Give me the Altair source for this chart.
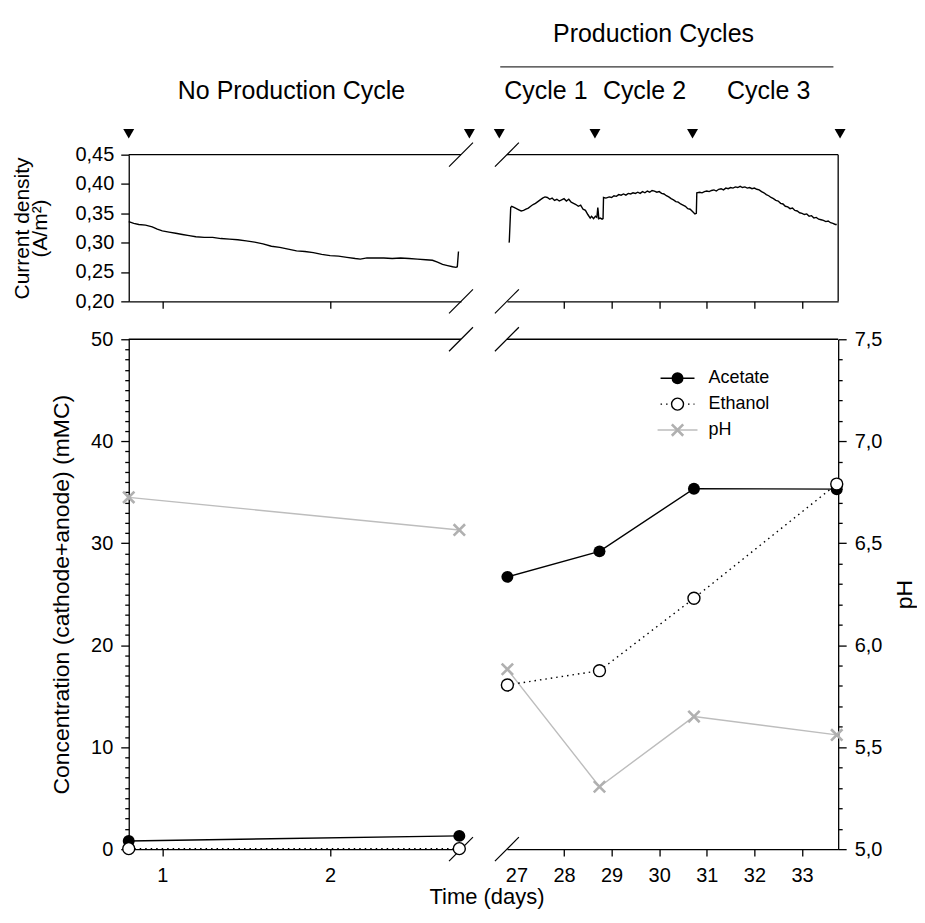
import altair as alt
import pandas as pd

FONT = "Liberation Sans, Arial, Helvetica, sans-serif"
W_L, W_R, H_T, H_B = 333, 332, 147, 511

# ---------------- data ----------------
cd_left_day = [0.80, 0.83, 0.86, 0.90, 0.94, 0.97, 1.00, 1.04, 1.08, 1.12, 1.16, 1.20, 1.25, 1.30,
               1.35, 1.40, 1.45, 1.50, 1.55, 1.60, 1.65, 1.70, 1.75, 1.80, 1.85, 1.90, 1.95, 2.00,
               2.05, 2.10, 2.15, 2.18, 2.22, 2.27, 2.32, 2.37, 2.42, 2.47, 2.52, 2.57, 2.61, 2.64,
               2.67, 2.70, 2.73, 2.75, 2.758, 2.765]
cd_left_val = [0.336, 0.333, 0.331, 0.330, 0.327, 0.323, 0.320, 0.318, 0.316, 0.314, 0.312, 0.310,
               0.309, 0.309, 0.307, 0.306, 0.305, 0.303, 0.301, 0.298, 0.294, 0.292, 0.289, 0.286,
               0.285, 0.283, 0.280, 0.278, 0.277, 0.275, 0.273, 0.272, 0.274, 0.274, 0.274, 0.273,
               0.274, 0.273, 0.272, 0.271, 0.270, 0.267, 0.263, 0.261, 0.259, 0.258, 0.259, 0.285]

cd_right_day = [26.845, 26.85, 26.88, 26.90, 26.95, 27.00, 27.05, 27.10, 27.15, 27.20, 27.25, 27.30,
                27.35, 27.40, 27.45, 27.50, 27.55, 27.60, 27.65, 27.70, 27.75, 27.80, 27.85, 27.90,
                27.95, 28.00, 28.05, 28.10, 28.15, 28.20, 28.25, 28.30, 28.35, 28.40, 28.45, 28.50,
                28.55, 28.58, 28.62, 28.66, 28.69, 28.71, 28.72, 28.73, 28.76, 28.80, 28.82, 28.83,
                28.88, 28.95, 29.00, 29.05, 29.10, 29.15, 29.20, 29.25, 29.30, 29.35, 29.40, 29.45,
                29.50, 29.55, 29.60, 29.65, 29.70, 29.75, 29.80, 29.85, 29.90, 29.95, 30.00, 30.05,
                30.10, 30.15, 30.20, 30.25, 30.30, 30.35, 30.40, 30.45, 30.50, 30.55, 30.60, 30.65,
                30.70, 30.75, 30.78, 30.79, 30.85, 30.90, 30.95, 31.00, 31.05, 31.10, 31.15, 31.20,
                31.25, 31.30, 31.35, 31.40, 31.45, 31.50, 31.55, 31.60, 31.65, 31.70, 31.75, 31.80,
                31.85, 31.90, 31.95, 32.00, 32.05, 32.10, 32.15, 32.20, 32.25, 32.30, 32.35, 32.40,
                32.45, 32.50, 32.55, 32.60, 32.65, 32.70, 32.75, 32.80, 32.85, 32.90, 32.95, 33.00,
                33.05, 33.10, 33.15, 33.20, 33.25, 33.30, 33.35, 33.40, 33.45, 33.50, 33.55, 33.60,
                33.65, 33.70, 33.73]
cd_right_val = [0.300, 0.302, 0.360, 0.362, 0.360, 0.358, 0.356, 0.354, 0.355, 0.357, 0.359, 0.362,
                0.365, 0.367, 0.370, 0.373, 0.376, 0.378, 0.377, 0.374, 0.376, 0.372, 0.374, 0.371,
                0.373, 0.375, 0.371, 0.374, 0.369, 0.367, 0.365, 0.362, 0.364, 0.357, 0.355, 0.348,
                0.342, 0.345, 0.341, 0.345, 0.343, 0.360, 0.352, 0.341, 0.342, 0.340, 0.341, 0.377,
                0.376, 0.378, 0.377, 0.380, 0.379, 0.382, 0.381, 0.383, 0.381, 0.384, 0.383, 0.385,
                0.384, 0.386, 0.384, 0.387, 0.385, 0.388, 0.386, 0.389, 0.388, 0.386, 0.387, 0.384,
                0.383, 0.380, 0.378, 0.375, 0.373, 0.370, 0.369, 0.366, 0.364, 0.362, 0.358, 0.357,
                0.353, 0.349, 0.350, 0.385, 0.386, 0.385, 0.387, 0.388, 0.387, 0.389, 0.390, 0.388,
                0.391, 0.392, 0.390, 0.393, 0.392, 0.394, 0.393, 0.395, 0.394, 0.396, 0.394, 0.395,
                0.393, 0.394, 0.392, 0.393, 0.391, 0.390, 0.387, 0.385, 0.382, 0.380, 0.377, 0.375,
                0.372, 0.371, 0.367, 0.366, 0.362, 0.361, 0.358, 0.359, 0.355, 0.354, 0.351, 0.350,
                0.348, 0.349, 0.345, 0.346, 0.342, 0.343, 0.340, 0.339, 0.338, 0.336, 0.337, 0.334,
                0.333, 0.331, 0.331]

conc_left_day = [0.80, 2.77]
acetate_left = [0.8, 1.3]
ethanol_left = [0.05, 0.05]
ph_left = [6.725, 6.565]

conc_right_day = [26.81, 28.745, 30.73, 33.73]
acetate_right = [26.7, 29.2, 35.35, 35.3]
ethanol_right = [16.1, 17.5, 24.6, 35.8]
ph_right = [5.882, 5.306, 5.65, 5.56]

cycle_marks_left = [0.80, 2.83]
cycle_marks_right = [26.64, 28.65, 30.70, 33.80]

header_left_label = ["No Production Cycle"]
header_left_day = [1.77]
cycle_labels = ["Cycle 1", "Cycle 2", "Cycle 3"]
cycle_label_day = [27.62, 29.69, 32.30]
group_label = ["Production Cycles"]
group_day = [29.88]
group_start = [26.66]
group_end = [33.66]

legend_labels = ["Acetate", "Ethanol", "pH"]

cd_ticks = [0.20, 0.25, 0.30, 0.35, 0.40, 0.45]
conc_ticks = list(range(0, 51))
ph_ticks = [round(5 + 0.1 * i, 1) for i in range(26)]
left_day_ticks = [1, 2]
right_day_ticks = [27, 28, 29, 30, 31, 32, 33]

# ---------------- styling helpers ----------------
GREY_LINE = "#bdbdbd"
GREY_PT = "#b0b0b0"
XPATH = "M-1,-1L1,1M-1,1L1,-1"
LBL = 20

xs_left = alt.Scale(domain=[0.8, 2.78], nice=False, zero=False)
xs_right = alt.Scale(domain=[26.8, 33.76], nice=False, zero=False)
ys_cd = alt.Scale(domain=[0.2, 0.45], nice=False, zero=False)
ys_conc = alt.Scale(domain=[0, 50], nice=False, zero=False)
ys_ph = alt.Scale(domain=[5, 7.5], nice=False, zero=False)

one = pd.DataFrame({"k": [0]})


def hrule(x1, x2, y, color="black", width=1.3):
    return alt.Chart(one).mark_rule(color=color, strokeWidth=width).encode(
        x=alt.value(x1), x2=alt.value(x2), y=alt.value(y))


def vrule(x, y1, y2, color="black", width=1.3):
    return alt.Chart(one).mark_rule(color=color, strokeWidth=width).encode(
        x=alt.value(x), y=alt.value(y1), y2=alt.value(y2))


def slash(cx, cy):
    return alt.Chart(one).mark_rule(color="black", strokeWidth=1.2).encode(
        x=alt.value(cx - 12), x2=alt.value(cx + 12), y=alt.value(cy + 12), y2=alt.value(cy - 12))


def triangles(days, xenc):
    return alt.Chart(pd.DataFrame({"day": days})).mark_point(
        shape="triangle-down", filled=True, color="black", size=120, opacity=1
    ).encode(x=xenc, y=alt.value(-21))


def header_text(days, labels, xenc, ypix):
    return alt.Chart(pd.DataFrame({"day": days, "label": labels})).mark_text(
        fontSize=25, font=FONT, color="black"
    ).encode(x=xenc, y=alt.value(ypix), text="label:N")


# x encodings (same axis object reused in every layer of a panel)
ax_tl = alt.Axis(values=left_day_ticks, labels=False, tickSize=7, title=None)
ax_tr = alt.Axis(values=right_day_ticks[1:], labels=False, tickSize=7, title=None)
ax_bl = alt.Axis(values=left_day_ticks, format="d", tickSize=7, labelPadding=9,
                 labelFlush=False, labelOverlap=False, title=None)
ax_br = alt.Axis(values=right_day_ticks, format="d", tickSize=7, labelPadding=9,
                 tickOpacity={"condition": {"test": "datum.value === 27", "value": 0}, "value": 1},
                 labelFlush=False, labelOverlap=False, title=None)
x_tl = alt.X("day:Q", scale=xs_left, axis=ax_tl, title=None)
x_tr = alt.X("day:Q", scale=xs_right, axis=ax_tr, title=None)
x_bl = alt.X("day:Q", scale=xs_left, axis=ax_bl, title=None)
x_br = alt.X("day:Q", scale=xs_right, axis=ax_br, title=None)

# ---------------- top-left: current density, no production ----------------
df_cdl = pd.DataFrame({"day": cd_left_day, "cd": cd_left_val})
cd_axis = alt.Axis(values=cd_ticks, labelExpr="replace(format(datum.value, '.2f'), '.', ',')",
                   tickSize=8, labelPadding=7, labelOverlap=False, labelFlush=False,
                   title=["Current density", "(A/m²)"], titleFontSize=21, titleLineHeight=19,
                   titlePadding=24)
tl_line = alt.Chart(df_cdl).mark_line(color="black", strokeWidth=1.4).encode(
    x=x_tl, y=alt.Y("cd:Q", scale=ys_cd, axis=cd_axis))
tl = alt.layer(
    hrule(0, W_L, 0), slash(W_L, 0), slash(W_L, H_T),
    triangles(cycle_marks_left, x_tl),
    header_text(header_left_day, header_left_label, x_tl, -64),
    tl_line,
).properties(width=W_L, height=H_T)

# ---------------- top-right: current density, production cycles ----------------
df_cdr = pd.DataFrame({"day": cd_right_day, "cd": cd_right_val})
tr_line = alt.Chart(df_cdr).mark_line(color="black", strokeWidth=1.4).encode(
    x=x_tr, y=alt.Y("cd:Q", scale=ys_cd, axis=None))
df_group = pd.DataFrame({"day": group_start, "end": group_end})
group_line = alt.Chart(df_group).mark_rule(color="#333333", strokeWidth=1.3).encode(
    x=x_tr, x2="end:Q", y=alt.value(-88))
tr = alt.layer(
    hrule(0, W_R, 0), vrule(W_R, 0, H_T), slash(0, 0), slash(0, H_T),
    triangles(cycle_marks_right, x_tr),
    header_text(cycle_label_day, cycle_labels, x_tr, -64),
    header_text(group_day, group_label, x_tr, -121),
    group_line,
    tr_line,
).properties(width=W_R, height=H_T)


# ---------------- concentration panels ----------------
def conc_layers(df, xenc, conc_axis, ph_axis):
    base = alt.Chart(df)
    ph_line = base.mark_line(color=GREY_LINE, strokeWidth=1.4).encode(
        x=xenc, y=alt.Y("ph:Q", scale=ys_ph, axis=ph_axis))
    ph_pts = base.mark_point(shape=XPATH, filled=False, color=GREY_PT, strokeWidth=2.6, size=130,
                             opacity=1).encode(x=xenc, y=alt.Y("ph:Q", scale=ys_ph, axis=None))
    ac_line = base.mark_line(color="black", strokeWidth=1.4).encode(
        x=xenc, y=alt.Y("acetate:Q", scale=ys_conc, axis=conc_axis))
    et_line = base.mark_line(color="black", strokeWidth=1.4, strokeDash=[1.5, 4]).encode(
        x=xenc, y=alt.Y("ethanol:Q", scale=ys_conc, axis=None))
    ac_pts = base.mark_circle(color="black", size=144, opacity=1).encode(
        x=xenc, y=alt.Y("acetate:Q", scale=ys_conc, axis=None))
    et_pts = base.mark_circle(fill="white", stroke="black", strokeWidth=1.4, size=144, opacity=1).encode(
        x=xenc, y=alt.Y("ethanol:Q", scale=ys_conc, axis=None))
    return [ph_line, ph_pts, ac_line, et_line, ac_pts, et_pts]


df_bl = pd.DataFrame({"day": conc_left_day, "acetate": acetate_left, "ethanol": ethanol_left, "ph": ph_left})
df_br = pd.DataFrame({"day": conc_right_day, "acetate": acetate_right, "ethanol": ethanol_right, "ph": ph_right})

major10 = "datum.value % 10 === 0"
conc_axis = alt.Axis(values=conc_ticks,
                     labelExpr=f"{major10} ? format(datum.value, 'd') : ''",
                     tickSize={"condition": {"test": major10, "value": 8}, "value": 4},
                     labelPadding=8, labelOverlap=False, labelFlush=False,
                     title="Concentration (cathode+anode) (mMC)", titleFontSize=23, titlePadding=17)
majorph = "abs(datum.value * 2 - round(datum.value * 2)) < 0.01"
ph_axis = alt.Axis(orient="right", values=ph_ticks,
                   labelExpr=f"{majorph} ? replace(format(datum.value, '.1f'), '.', ',') : ''",
                   tickSize={"condition": {"test": majorph, "value": 8}, "value": 4},
                   labelPadding=8, labelOverlap=False, labelFlush=False,
                   title="pH", titleAngle=270, titleBaseline="top", titleFontSize=23, titlePadding=12)

bl = alt.layer(
    hrule(0, W_L, 0), slash(W_L, 0), slash(W_L, H_B),
    *conc_layers(df_bl, x_bl, conc_axis, None),
).resolve_scale(y="independent").properties(width=W_L, height=H_B)


def legend_entry(ypix, label, kind):
    parts = []
    if kind == "acetate":
        parts.append(hrule(154, 188, ypix, width=1.4))
        parts.append(alt.Chart(one).mark_circle(color="black", size=144, opacity=1).encode(
            x=alt.value(171), y=alt.value(ypix)))
    elif kind == "ethanol":
        parts.append(alt.Chart(one).mark_rule(color="black", strokeWidth=1.4, strokeDash=[1.5, 4]).encode(
            x=alt.value(154), x2=alt.value(188), y=alt.value(ypix)))
        parts.append(alt.Chart(one).mark_circle(fill="white", stroke="black", strokeWidth=1.4, size=144,
                                                opacity=1).encode(x=alt.value(171), y=alt.value(ypix)))
    else:
        parts.append(hrule(151, 191, ypix, color=GREY_LINE, width=1.4))
        parts.append(alt.Chart(one).mark_point(shape=XPATH, filled=False, color=GREY_PT, strokeWidth=2.6,
                                               size=130, opacity=1).encode(x=alt.value(171), y=alt.value(ypix)))
    parts.append(alt.Chart(one).mark_text(align="left", fontSize=18, font=FONT, color="black").encode(
        x=alt.value(202), y=alt.value(ypix), text=alt.value(label)))
    return parts


legend_parts = (legend_entry(39, legend_labels[0], "acetate")
                + legend_entry(65, legend_labels[1], "ethanol")
                + legend_entry(91, legend_labels[2], "ph"))

time_title = alt.Chart(one).mark_text(fontSize=22, font=FONT, color="black").encode(
    x=alt.value(-20), y=alt.value(H_B + 48), text=alt.value("Time (days)"))

br = alt.layer(
    hrule(0, W_R, 0), slash(0, 0), slash(0, H_B),
    *conc_layers(df_br, x_br, None, ph_axis),
    *legend_parts,
    time_title,
).resolve_scale(y="independent").properties(width=W_R, height=H_B)

chart = alt.concat(
    tl, tr, bl, br, columns=2, spacing={"row": 38, "column": 46}, bounds="flush", align="each"
).configure(
    font=FONT, padding={"left": 3, "top": 13, "right": 0, "bottom": 0}
).configure_view(stroke=None).configure_axis(
    domainColor="black", tickColor="black", labelColor="black", titleColor="black",
    domainWidth=1.3, tickWidth=1.3, labelFont=FONT, titleFont=FONT, labelFontSize=LBL,
    titleFontWeight="normal", grid=False
)

chart.save("out.html", embed_options={"renderer": "svg", "actions": False})
